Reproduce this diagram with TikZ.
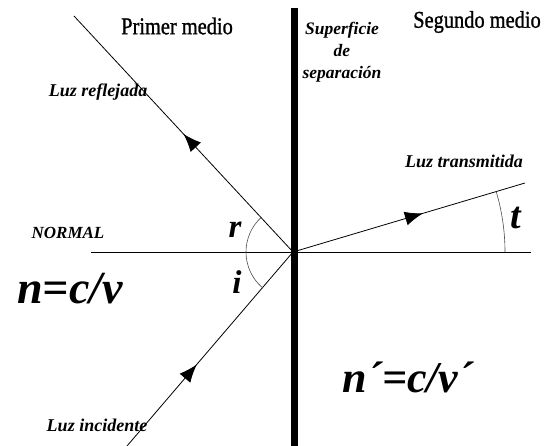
\documentclass[tikz,border=0pt]{standalone}
\usepackage{fontspec}
\setmainfont{Liberation Serif}
\newfontfamily\mediofont[FakeBold=1.2]{Liberation Serif}
\usetikzlibrary{arrows.meta,decorations.markings}

\begin{document}
\begin{tikzpicture}[x=1pt,y=1pt,
          ray/.style={line width=0.8pt,postaction={decorate},
            decoration={markings,mark=at position #1 with {\arrow{Latex[length=18pt,width=14pt]}}}},
          lbl/.style={font=\bfseries\itshape\fontsize{18}{22}\selectfont,inner sep=0pt},
          medio/.style={font=\mediofont\fontsize{24}{28}\selectfont,xscale=0.85,inner sep=0pt},
          ang/.style={font=\bfseries\itshape\fontsize{33}{36}\selectfont,inner sep=0pt},
          big/.style={font=\bfseries\itshape\fontsize{46}{50}\selectfont,inner sep=0pt},
          arco/.style={draw=black!70,line width=0.6pt}]
        \useasboundingbox (0,0) rectangle (546,446);
        \coordinate (O) at (293,194);
        \coordinate (R) at (74,430);
        \coordinate (I) at (127,0);
        \coordinate (T) at (525,263);
        \coordinate (NL) at (91,194);
        \coordinate (NR) at (531,194);
        \coordinate (BT) at (294.5,438);
        \coordinate (BB) at (294.5,0);
        \draw[line width=0.8pt] (NL) -- (NR);
        \draw[ray=0.5] (O) -- (R);
        \draw[ray=0.42] (I) -- (O);
        \draw[ray=0.56] (O) -- (T);
        \draw[line width=7pt] (BT) -- (BB);
        \draw[arco] ([shift={(180:47)}]O) arc (180:132.9:47);
        \draw[arco] ([shift={(180:47)}]O) arc (180:229.4:47);
        \draw[arco] ([shift={(0:212)}]O) arc (0:16.6:212);
        \node[medio] (m1) at (177,420) {Primer medio};
        \node[medio] (m2) at (477,424) {Segundo medio};
        \node[lbl,align=center,font=\bfseries\itshape\fontsize{17.5}{22}\selectfont] (sup) at (342,394) {Superficie\\de\\separación};
        \node[lbl] (refl) at (98,354) {Luz reflejada};
        \node[lbl] (trans) at (464,285) {Luz transmitida};
        \node[lbl] (inc) at (97,21) {Luz incidente};
        \node[lbl,font=\bfseries\itshape\fontsize{17}{20}\selectfont] (norm) at (68,213) {NORMAL};
        \node[ang] (r) at (235,216) {r};
        \node[ang] (i) at (237,164) {i};
        \node[ang,font=\bfseries\itshape\fontsize{38}{40}\selectfont] (t) at (516,228) {t};
        \node[big] (n1) at (70,157) {n=c/v};
        \node[big,font=\bfseries\itshape\fontsize{44}{48}\selectfont] (n2) at (408,69) {n´=c/v´};
      \end{tikzpicture}
\end{document}
